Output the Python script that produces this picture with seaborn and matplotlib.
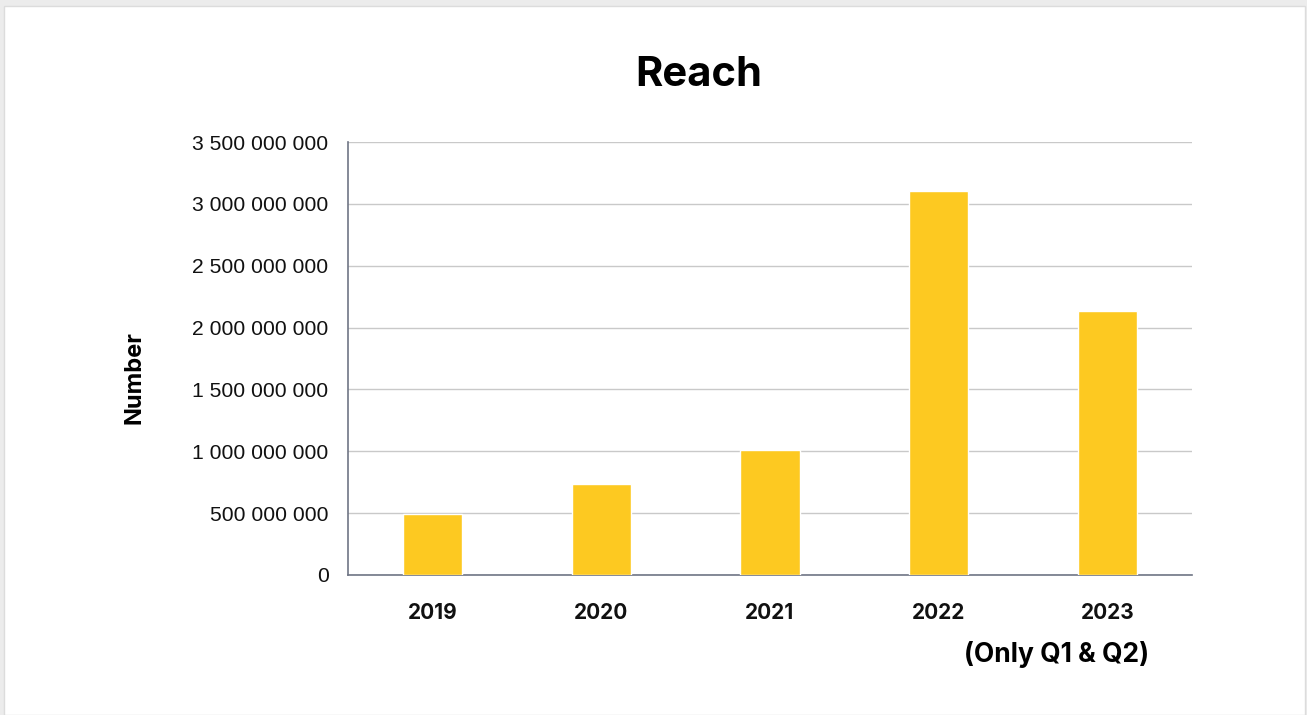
import matplotlib
matplotlib.use("Agg")
import matplotlib.pyplot as plt
from matplotlib.patches import Rectangle
from matplotlib.ticker import FuncFormatter
import seaborn as sns
import pandas as pd

# Yearly reach figures
years = ["2019", "2020", "2021", "2022", "2023"]
reach = [490_000_000, 735_000_000, 1_010_000_000, 3_100_000_000, 2_130_000_000]
y_ticks = [0, 500_000_000, 1_000_000_000, 1_500_000_000, 2_000_000_000,
           2_500_000_000, 3_000_000_000, 3_500_000_000]

df = pd.DataFrame({"Year": years, "Reach": reach})

sns.set_theme(style="white")
plt.rcParams["font.family"] = ["Inter", "DejaVu Sans"]

fig = plt.figure(figsize=(13.07, 7.15), dpi=100)
fig.patch.set_facecolor("#ececec")

# White card with a faint edge, kept behind the axes
card = Rectangle((4 / 1307, 0), 1301 / 1307, 1 - 6 / 715,
                 transform=fig.transFigure, facecolor="white",
                 edgecolor="#dcdcdc", linewidth=1.0, zorder=-10)
fig.patches.append(card)

ax = fig.add_axes([348 / 1307, 140 / 715, 844 / 1307, 433 / 715])
ax.set_facecolor("none")
ax.set_zorder(5)

sns.barplot(data=df, x="Year", y="Reach", color="#FDC921", width=0.35,
            saturation=1, ax=ax, zorder=3)

ax.set_ylim(0, 3_500_000_000)
ax.set_xlim(-0.5, 4.5)
ax.set_yticks(y_ticks)
ax.yaxis.set_major_formatter(
    FuncFormatter(lambda v, _: f"{int(v):,}".replace(",", " ")))
ax.grid(axis="y", color="#c9c9c9", linewidth=1.0, zorder=0)
ax.grid(axis="x", visible=False)
ax.set_axisbelow(True)

for side in ("top", "right"):
    ax.spines[side].set_visible(False)
for side in ("left", "bottom"):
    ax.spines[side].set_visible(True)
    ax.spines[side].set_color("#6f7585")
    ax.spines[side].set_linewidth(1.2)

ax.tick_params(axis="y", length=0, pad=14, labelsize=15.2,
               labelcolor="#111111")
ax.tick_params(axis="x", length=0, pad=20, labelsize=15,
               labelcolor="#111111")
for lbl in ax.get_yticklabels():
    lbl.set_fontfamily(["Liberation Sans", "DejaVu Sans"])
for lbl in ax.get_xticklabels():
    lbl.set_fontweight("bold")

ax.set_xlabel("")
ax.set_ylabel("")

fig.text(699 / 1307, 1 - 75 / 715, "Reach", ha="center", va="center",
         fontsize=30, fontweight="bold", color="#000000")
fig.text(134 / 1307, 1 - 378 / 715, "Number", ha="center", va="center",
         rotation=90, fontsize=17, fontweight="bold", color="#000000")
fig.text(1057 / 1307, 1 - 655 / 715, "(Only Q1 & Q2)", ha="center",
         va="center", fontsize=19, fontweight="bold", color="#000000")

fig.savefig("out.png", dpi=100, facecolor=fig.get_facecolor())
